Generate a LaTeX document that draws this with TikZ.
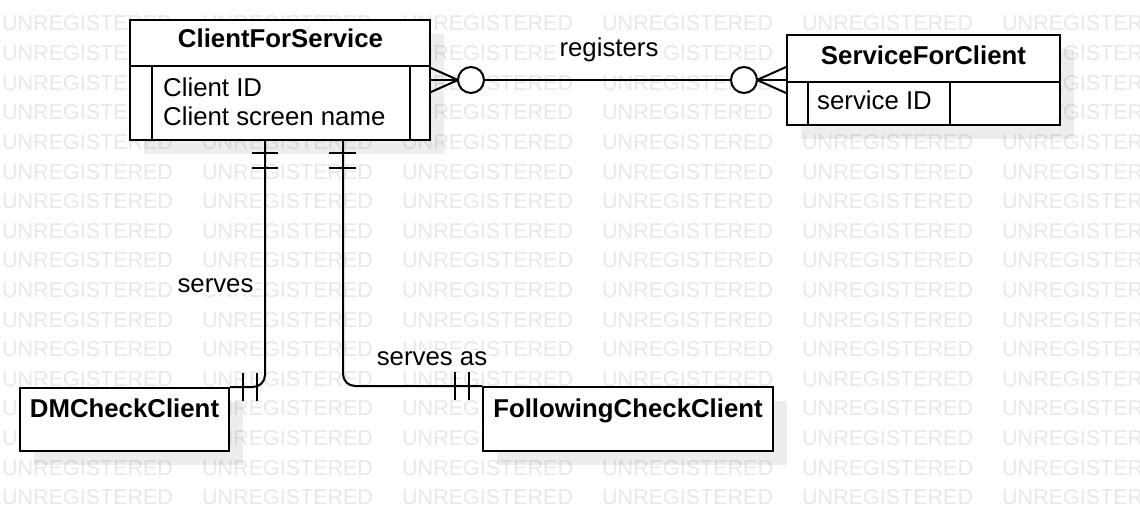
\documentclass[tikz,border=0pt]{standalone}
\usepackage{fontspec}
\setmainfont{Liberation Sans}
\usetikzlibrary{shadows}
\begin{document}
\begin{tikzpicture}[x=1pt,y=-1pt,
  ent/.style={draw=black, line width=2pt, fill=white, inner sep=0pt,
    drop shadow={shadow xshift=14pt, shadow yshift=-14pt, fill=black, opacity=0.07}},
  divline/.style={line width=2pt},
  colline/.style={line width=1.6pt},
  conn/.style={line width=2pt, line cap=butt},
  circ/.style={circle, draw=black, line width=2pt, fill=white, minimum size=26pt, inner sep=0pt},
  txtl/.style={font=\fontsize{25.8pt}{31pt}\selectfont, inner sep=0pt, anchor=base west},
  hdr/.style={font=\fontsize{25.8pt}{31pt}\selectfont\bfseries, inner sep=0pt, anchor=base},
  lbl/.style={font=\fontsize{25.8pt}{31pt}\selectfont, inner sep=1.5pt, fill=white, anchor=base},
  wm/.style={font=\fontsize{21.5pt}{26pt}\selectfont, text=black!9, inner sep=0pt, anchor=base west}
]
\useasboundingbox (0,0) rectangle (1140,532);
\clip (0,0) rectangle (1140,532);
\fill[white] (0,0) rectangle (1140,532);

% watermark
\foreach \k in {0,...,16}{
  \foreach \j in {0,...,5}{
    \node[wm] (wm-\k-\j) at ({2+200*\j},{31+29.6*\k}) {UNREGISTERED};
  }
}

% entities
\node[ent, minimum width=300pt, minimum height=120pt] (cfs) at (280,80) {};
\node[ent, minimum width=273pt, minimum height=90pt] (sfc) at (923.5,80) {};
\node[ent, minimum width=209pt, minimum height=63pt] (dm) at (124.5,419.5) {};
\node[ent, minimum width=290pt, minimum height=64pt] (fcc) at (628,419) {};

% internals of ClientForService
\draw[divline] (cfs.west |- 0,66) -- (cfs.east |- 0,66);
\draw[colline] (152,66) -- (152,140);
\draw[colline] (410,66) -- (410,140);
% internals of ServiceForClient
\draw[divline] (sfc.west |- 0,82) -- (sfc.east |- 0,82);
\draw[colline] (808,82) -- (808,125);
\draw[colline] (950,82) -- (950,125);

% texts
\node[hdr] (t-cfs) at (280.5,48) {ClientForService};
\node[txtl] (a1) at (163,97) {Client ID};
\node[txtl] (a2) at (163,125) {Client screen name};
\node[hdr] (t-sfc) at (923.5,65) {ServiceForClient};
\node[txtl] (a3) at (817,110) {service ID};
\node[hdr] (t-dm) at (124.5,417) {DMCheckClient};
\node[hdr] (t-fcc) at (628,417) {FollowingCheckClient};

% registers connector (zero-or-many on both ends)
\draw[conn] (cfs.east) -- (sfc.west);
\draw[conn] ([yshift=12pt]cfs.east) -- ([xshift=27pt]cfs.east) -- ([yshift=-12pt]cfs.east);
\node[circ] (o1) at ([xshift=40pt]cfs.east) {};
\draw[conn] ([yshift=13pt]sfc.west) -- ([xshift=-29pt]sfc.west) -- ([yshift=-13pt]sfc.west);
\node[circ] (o2) at ([xshift=-42pt]sfc.west) {};

% serves connector (one-and-only-one both ends)
\draw[conn, rounded corners=12pt] ([xshift=-15pt]cfs.south) |- (dm.north east);
\draw[conn] ([xshift=-28pt,yshift=-12pt]cfs.south) -- ([xshift=-2pt,yshift=-12pt]cfs.south);
\draw[conn] ([xshift=-28pt,yshift=-27pt]cfs.south) -- ([xshift=-2pt,yshift=-27pt]cfs.south);
\draw[conn] ([xshift=13pt,yshift=14pt]dm.north east) -- ([xshift=13pt,yshift=-14pt]dm.north east);
\draw[conn] ([xshift=27pt,yshift=14pt]dm.north east) -- ([xshift=27pt,yshift=-14pt]dm.north east);

% serves as connector
\draw[conn, rounded corners=12pt] ([xshift=63pt]cfs.south) |- (fcc.north west);
\draw[conn] ([xshift=49pt,yshift=-12pt]cfs.south) -- ([xshift=76pt,yshift=-12pt]cfs.south);
\draw[conn] ([xshift=49pt,yshift=-27pt]cfs.south) -- ([xshift=76pt,yshift=-27pt]cfs.south);
\draw[conn] ([xshift=-27pt,yshift=14pt]fcc.north west) -- ([xshift=-27pt,yshift=-14pt]fcc.north west);
\draw[conn] ([xshift=-13pt,yshift=14pt]fcc.north west) -- ([xshift=-13pt,yshift=-14pt]fcc.north west);

% labels
\node[lbl] (l-reg) at (609,57) {registers};
\node[lbl] (l-serves) at (215.5,292) {serves};
\node[lbl] (l-servesas) at (432,365) {serves as};
\end{tikzpicture}
\end{document}
